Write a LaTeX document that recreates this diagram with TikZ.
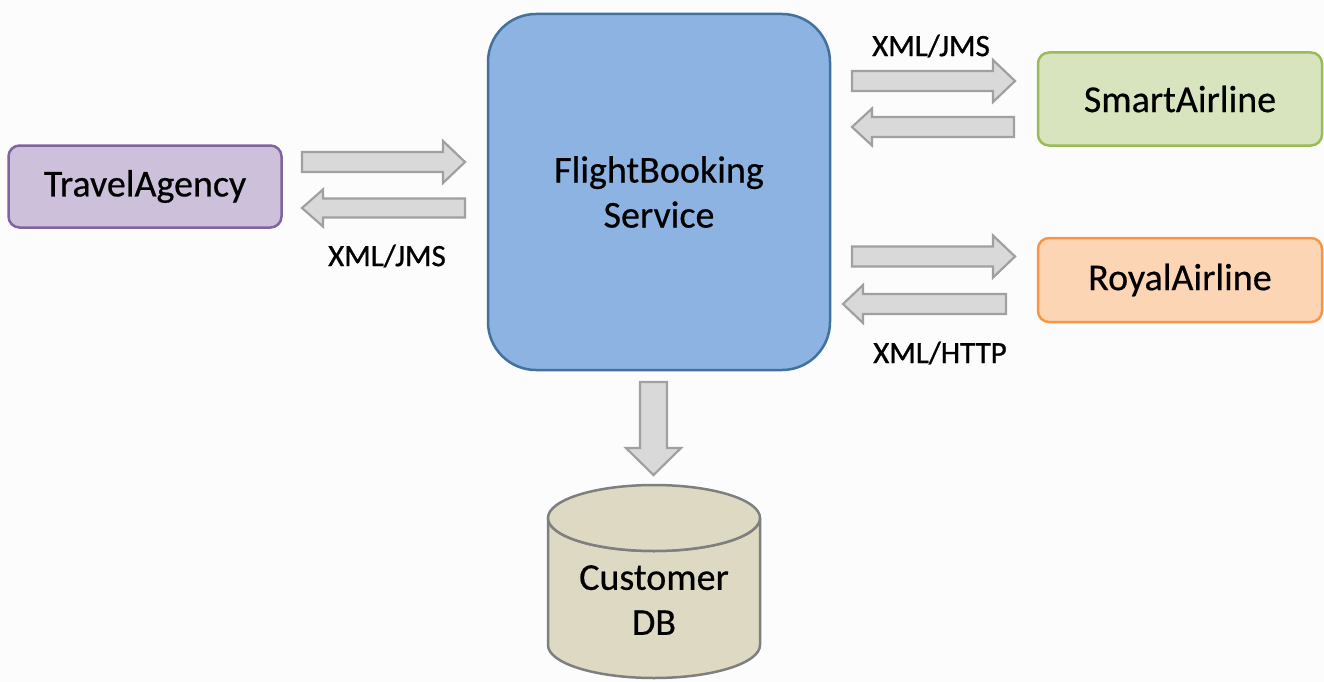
\documentclass[tikz,border=0pt]{standalone}
\usepackage{fontspec}
\setmainfont{Carlito}
\newfontfamily\boxfont{Carlito}[FakeBold=0.5]
\newfontfamily\lblfont{Carlito}[FakeBold=0.9]
\usetikzlibrary{positioning}
\definecolor{bgc}{HTML}{FCFCFC}
\definecolor{tafill}{HTML}{CCC0DA}
\definecolor{taline}{HTML}{8064A2}
\definecolor{fbfill}{HTML}{8DB3E2}
\definecolor{fbline}{HTML}{41719C}
\definecolor{safill}{HTML}{D7E4BD}
\definecolor{saline}{HTML}{9BBB59}
\definecolor{rafill}{HTML}{FCD5B5}
\definecolor{raline}{HTML}{F79646}
\definecolor{arfill}{HTML}{D9D9D9}
\definecolor{arline}{HTML}{A0A0A0}
\definecolor{dbfill}{HTML}{DDD9C3}
\definecolor{dbline}{HTML}{7F7F7F}
\tikzset{
  x=1pt, y=-1pt,
  box/.style={draw, line width=2.5pt, rounded corners=11pt, inner sep=0pt,
    font=\boxfont\fontsize{38}{45}\selectfont, align=center},
  lbl/.style={font=\lblfont\fontsize{31}{36}\selectfont, inner sep=0pt},
  blk/.style={fill=arfill, draw=arline, line width=2.2pt, line join=miter},
  pics/barrow/.style args={#1/#2/#3/#4}{code={
    \draw[blk] (0,-#2) -- (#1-#4,-#2) -- (#1-#4,-#3) -- (#1,0) -- (#1-#4,#3)
      -- (#1-#4,#2) -- (0,#2) -- cycle;}}
}
\begin{document}
\begin{tikzpicture}
\useasboundingbox[fill=bgc] (0,0) rectangle (1324,682);

% nodes
\node[box, fill=tafill, draw=taline, minimum width=273pt, minimum height=82pt]
  (ta) at (145,186.5) {TravelAgency};
\node[box, fill=fbfill, draw=fbline, rounded corners=48pt,
  minimum width=342pt, minimum height=356pt] (fb) at (659,192) {FlightBooking\\Service};
\node[box, fill=safill, draw=saline, minimum width=284pt, minimum height=93pt]
  (sa) at (1180,99) {SmartAirline};
\node[box, fill=rafill, draw=raline, minimum width=284pt, minimum height=84pt]
  (ra) at (1180,280) {RoyalAirline};

% database cylinder
\draw[fill=dbfill, draw=dbline, line width=2.5pt]
  (548,518) -- (548,645) arc[start angle=180, end angle=0, x radius=106, y radius=33]
  -- (760,518) arc[start angle=0, end angle=180, x radius=106, y radius=33] -- cycle;
\draw[fill=dbfill, draw=dbline, line width=2.5pt] (654,518) ellipse[x radius=106, y radius=33];
\node[font=\boxfont\fontsize{38}{45}\selectfont, align=center, inner sep=0pt] (db) at (654,600) {Customer\\DB};

% block arrows
\pic at (302,162) {barrow=163/10/21/22};
\pic[rotate=180] at (465,208) {barrow=163/9.5/18.5/21};
\pic at (852,81) {barrow=163/10/21/22};
\pic[rotate=180] at (1014,127) {barrow=162/10/18.5/20};
\pic at (852,256.5) {barrow=163/10/21/22};
\pic[rotate=180] at (1006,304) {barrow=163/10/19/20};
\pic[rotate=-90] at (653.5,382) {barrow=93/13.5/27.5/27};

% labels
\node[lbl] (l1) at (387,256) {XML/JMS};
\node[lbl] (l2) at (931,46) {XML/JMS};
\node[lbl] (l3) at (940,353) {XML/HTTP};
\end{tikzpicture}
\end{document}
